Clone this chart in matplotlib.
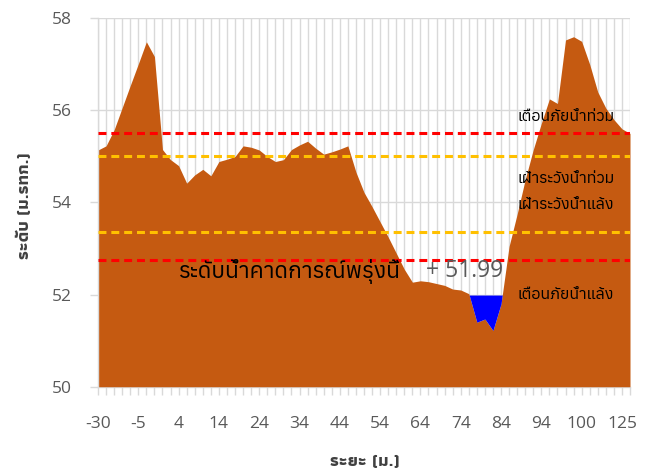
import matplotlib
matplotlib.use("Agg")
import matplotlib.pyplot as plt
from matplotlib import font_manager
from matplotlib.ft2font import FT2Font
import numpy as np

# ---------------- data ----------------
tick_labels = ['-30', '-5', '4', '14', '24', '34', '44', '54', '64', '74', '84', '94', '100', '125']
elevation = [55.14, 55.23, 55.58, 56.06, 56.54, 57.01, 57.49, 57.17, 55.15, 54.93,
             54.80, 54.42, 54.60, 54.72, 54.58, 54.89, 54.94, 55.00, 55.23, 55.20,
             55.14, 55.00, 54.89, 54.93, 55.15, 55.25, 55.33, 55.18, 55.05, 55.10,
             55.16, 55.23, 54.66, 54.22, 53.91, 53.58, 53.25, 52.90, 52.55, 52.27,
             52.30, 52.28, 52.24, 52.20, 52.12, 52.10, 52.02, 51.40, 51.47, 51.22,
             51.80, 53.05, 53.75, 54.50, 55.15, 55.72, 56.25, 56.15, 57.53, 57.60,
             57.50, 57.00, 56.40, 56.05, 55.80, 55.60, 55.50]
forecast_level = 51.99
flood_warning = 55.5
flood_watch = 55.0
drought_watch = 53.37
drought_warning = 52.75

# ---------------- fonts ----------------
def _w(v):
    if isinstance(v, str):
        return font_manager.weight_dict.get(v, 400)
    return int(v)

thai_entries = []
for f in font_manager.fontManager.ttflist:
    try:
        cmap = FT2Font(f.fname).get_charmap()
    except Exception:
        continue
    if 0x0E14 in cmap and 0x0E49 in cmap and f.style == 'normal':
        thai_entries.append(f)

def regular_thai():
    c = sorted(thai_entries, key=lambda f: (abs(_w(f.weight) - 400), 'ui' in f.name.lower(), f.name))
    return c[0].fname if c else None

def bold_thai_family():
    fams = {}
    for f in thai_entries:
        fams.setdefault(f.name, set()).add(_w(f.weight))
    if not fams:
        return 'DejaVu Sans'
    def score(item):
        name, ws = item
        return (not any(w >= 600 for w in ws), 'ui' in name.lower(), name)
    return sorted(fams.items(), key=score)[0][0]

reg_path = regular_thai()
reg_prop = font_manager.FontProperties(fname=reg_path) if reg_path else font_manager.FontProperties(family='DejaVu Sans')
bold_fam = [bold_thai_family(), 'DejaVu Sans']
num_font = ['Open Sans', 'DejaVu Sans']

# ---------------- figure ----------------
W, H = 656, 473
fig = plt.figure(figsize=(W / 100, H / 100), dpi=100)
ax = fig.add_axes([98 / W, 1 - 386.7 / H, (630 - 98) / W, (386.7 - 18.3) / H])

x = np.arange(len(elevation))
elev = np.array(elevation)

ax.fill_between(x, 50, elev, color='#C55A11', lw=0, zorder=2)
ax.fill_between(x, elev, forecast_level, where=elev < forecast_level,
                interpolate=True, color='#0000FF', lw=0, zorder=2)

dash_kw = dict(lw=2.2, zorder=3)
ax.axhline(flood_warning, color='#FF0000', dashes=(2.6, 1.6), **dash_kw)
ax.axhline(flood_watch, color='#FFC000', dashes=(2.6, 1.6), **dash_kw)
ax.axhline(drought_watch, color='#FFC000', dashes=(2.6, 1.6), **dash_kw)
ax.axhline(drought_warning, color='#FF0000', dashes=(2.6, 1.6), **dash_kw)

ax.set_xlim(0, len(elevation) - 1)
ax.set_ylim(50, 58)
ax.set_yticks([50, 52, 54, 56, 58])
ax.set_xticks(np.arange(0, 5 * len(tick_labels), 5))
ax.set_xticklabels(tick_labels)
ax.set_xticks(x, minor=True)

for v in x:
    ax.axvline(v, color='#D9D9D9', lw=1, zorder=1)
for v in [50, 52, 54, 56, 58]:
    ax.axhline(v, color='#D9D9D9', lw=1, zorder=1)

for s in ['top', 'right']:
    ax.spines[s].set_visible(False)
for s in ['left', 'bottom']:
    ax.spines[s].set_color('#D9D9D9')
    ax.spines[s].set_linewidth(1)
ax.spines['bottom'].set_zorder(0.5)

ax.tick_params(axis='x', which='both', length=6, width=1, color='#D9D9D9',
               pad=15, labelsize=12.5, labelcolor='#595959')
ax.tick_params(axis='y', length=6, width=1, color='#D9D9D9',
               pad=13, labelsize=12.5, labelcolor='#595959')
for lab in ax.get_xticklabels() + ax.get_yticklabels():
    lab.set_family(num_font)

def px2data(px, py):
    xd = (px - 98) / (630 - 98) * (len(elevation) - 1)
    yd = 58 - (py - 18.3) / 46.05
    return xd, yd

def tprop(size):
    p = reg_prop.copy()
    p.set_size(size)
    return p

tk = dict(fontproperties=tprop(11.5), color='black', ha='center', va='center', zorder=5)
ax.text(*px2data(566, 116), 'เตือนภัยน้ำท่วม', **tk)
ax.text(*px2data(566, 178), 'เฝ้าระวังน้ำท่วม', **tk)
ax.text(*px2data(566, 204), 'เฝ้าระวังน้ำแล้ง', **tk)
ax.text(*px2data(566, 294), 'เตือนภัยน้ำแล้ง', **tk)

ax.text(*px2data(178, 272), 'ระดับน้ำคาดการณ์พรุ่งนี้', fontproperties=tprop(16.5),
        color='black', ha='left', va='center', zorder=5)
ax.text(*px2data(503, 271), '+ %.2f' % forecast_level, family=num_font, fontsize=16.5,
        color='#595959', ha='right', va='center', zorder=5)

fig.text(24 / W, 1 - 206 / H, 'ระดับ (ม.รทก.)', family=bold_fam, fontsize=12.5,
         color='#404040', rotation=90, ha='center', va='center', fontweight='bold')
fig.text(365 / W, 1 - 462 / H, 'ระยะ (ม.)', family=bold_fam, fontsize=12.5,
         color='#404040', ha='center', va='center', fontweight='bold')

fig.savefig('out.png', dpi=100)
